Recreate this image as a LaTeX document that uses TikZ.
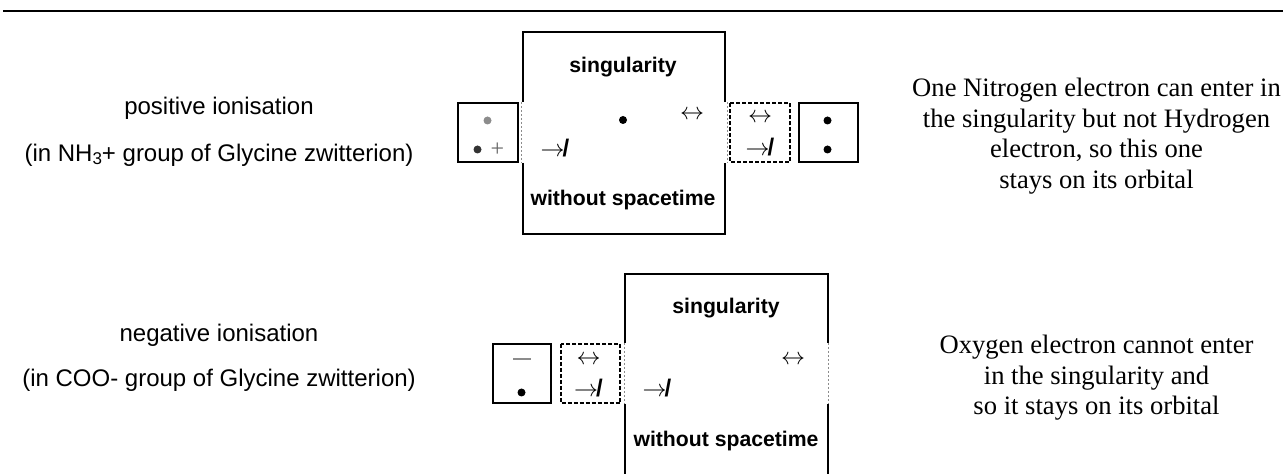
\documentclass[tikz,border=0pt]{standalone}
\usepackage{fontspec}
\setmainfont{Liberation Serif}
\setsansfont{Liberation Sans}
\newfontfamily\tnr{Liberation Serif}
\begin{document}
\begin{tikzpicture}[x=0.5pt,y=-0.5pt,
  box/.style={draw=black, line width=1pt},
  gapedge/.style={draw=black!45, line width=0.5pt, dash pattern=on 1pt off 1pt},
  dbox/.style={draw=black, line width=1pt, dash pattern=on 2pt off 1pt},
  lbl/.style={font=\sffamily\fontsize{12}{14}\selectfont, anchor=base, inner sep=0},
  bold/.style={font=\sffamily\bfseries\fontsize{10.6}{12}\selectfont, anchor=base, inner sep=0},
  note/.style={font=\tnr\fontsize{13.3}{15.25}\selectfont, align=center, anchor=base, inner sep=0},
  sym/.style={font=\fontsize{12}{14}\selectfont, inner sep=0},
  dot/.style={circle, fill=#1, inner sep=0, minimum size=4pt},
  dot/.default=black]
\useasboundingbox (0,0) rectangle (1283,474);
% top rule
\coordinate (rl) at (3,11);
\coordinate (rr) at (1283,11);
\draw[line width=1pt] (rl) -- (rr);

% ===== top row =====
\draw[box] (522.5,102) -- (522.5,32) -- (725,32) -- (725,102);
\draw[box] (522.5,163) -- (522.5,234) -- (725,234) -- (725,163);
\draw[gapedge] (521.5,102) -- (521.5,163);
\draw[gapedge] (727,102) -- (727,163);
\draw[box] (458,103.5) rectangle (518,162.5);
\draw[dbox] (730,103.5) rectangle (790,162.5);
\draw[box] (798.5,103.5) rectangle (857.5,162.5);

\node[bold] (s1) at (623,73) {singularity};
\node[bold] (w1) at (623,206) {without spacetime};
\node[dot] (d1) at (623,120) {};
\node[sym] (lr1) at (692,115) {$\leftrightarrow$};
\node[sym] (nt1) at (555,148) {$\rightarrow$\kern-1pt{\sffamily\bfseries /}};
\node[dot=black!45] (g1) at (487.5,120.5) {};
\node[dot=black!80] (k1) at (477.5,149.5) {};
\node[sym, font=\tnr\fontsize{12}{14}\selectfont, text=black!60] (p1) at (497.5,150) {+};
\node[sym] (lr2) at (760,118.5) {$\leftrightarrow$};
\node[sym] (nt2) at (760,147) {$\rightarrow$\kern-1pt{\sffamily\bfseries /}};
\node[dot] (r1) at (827.5,120.5) {};
\node[dot] (r2) at (827.5,149.5) {};

\node[lbl] (pos) at (219,115) {positive ionisation};
\node[lbl] (pos2) at (219,162) {(in NH\raisebox{-0.2ex}{\fontsize{8.5}{9}\selectfont 3}+ group of Glycine zwitterion)};
\node[note] (n1) at (1096.5,188.5) {One Nitrogen electron can enter in\\the singularity but not Hydrogen\\electron, so this one\\stays on its orbital};

% ===== bottom row =====
\draw[box] (625,343) -- (625,274) -- (827.5,274) -- (827.5,343);
\draw[box] (625,404) -- (625,476);
\draw[box] (827.5,404) -- (827.5,476);
\draw[gapedge] (624,343) -- (624,404);
\draw[gapedge] (828.5,343) -- (828.5,404);
\draw[box] (492.5,344) rectangle (551,403.5);
\draw[dbox] (561,344) rectangle (620,403.5);

\node[bold] (s2) at (726,314) {singularity};
\node[bold] (w2) at (726,447) {without spacetime};
\node[sym] (lr3) at (793,360) {$\leftrightarrow$};
\node[sym] (nt3) at (657,388) {$\rightarrow$\kern-1pt{\sffamily\bfseries /}};
\coordinate (m1) at (513,359.5);
\coordinate (m2) at (531,359.5);
\draw[black!45, line width=1pt] (m1) -- (m2);
\node[dot] (b1) at (521.5,392.5) {};
\node[sym] (lr4) at (588.5,360) {$\leftrightarrow$};
\node[sym] (nt4) at (588.5,388) {$\rightarrow$\kern-1pt{\sffamily\bfseries /}};

\node[lbl] (neg) at (219,342) {negative ionisation};
\node[lbl] (neg2) at (219,387) {(in COO- group of Glycine zwitterion)};
\node[note] (n2) at (1096.5,415) {Oxygen electron cannot enter\\in the singularity and\\so it stays on its orbital};
\end{tikzpicture}
\end{document}
